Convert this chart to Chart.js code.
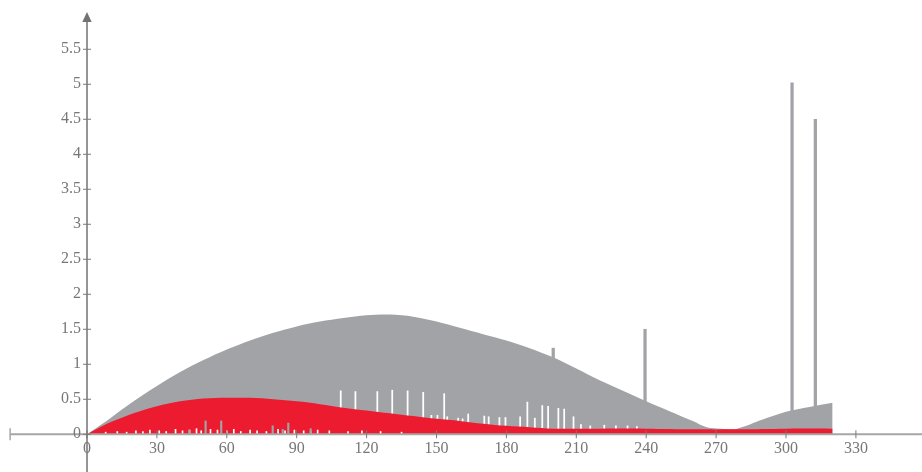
<!DOCTYPE html>
<html>
<head>
<meta charset="utf-8">
<script src="https://cdn.jsdelivr.net/npm/chart.js@4.4.1/dist/chart.umd.min.js"></script>
<style>
  html, body { margin: 0; padding: 0; background: #fff; }
  #wrap { width: 922px; height: 472px; }
</style>
</head>
<body>
<div id="wrap"><canvas id="chart"></canvas></div>
<script>
// gray hump (outline)
const grayX = [0, 10, 20, 30, 40, 50, 60, 70, 80, 90, 100, 110, 120, 130, 140, 150, 160, 170, 180, 190, 200, 210, 220, 230, 240, 250, 260, 266, 272, 279, 290, 300, 310, 320];
const grayY = [0, 0.23, 0.47, 0.69, 0.89, 1.06, 1.21, 1.34, 1.45, 1.54, 1.61, 1.66, 1.70, 1.71, 1.68, 1.61, 1.52, 1.43, 1.34, 1.23, 1.10, 0.94, 0.77, 0.62, 0.47, 0.33, 0.19, 0.10, 0.08, 0.08, 0.21, 0.32, 0.39, 0.45];

// red hump
const redX = [0, 5, 10, 20, 30, 40, 50, 60, 70, 80, 90, 100, 110, 120, 130, 140, 150, 160, 170, 180, 190, 200, 220, 240, 260, 280, 300, 320];
const redY = [0, 0.09, 0.17, 0.30, 0.40, 0.47, 0.51, 0.52, 0.52, 0.50, 0.47, 0.43, 0.38, 0.34, 0.30, 0.26, 0.22, 0.19, 0.15, 0.12, 0.10, 0.08, 0.08, 0.08, 0.07, 0.07, 0.08, 0.08];

// tall gray spikes
const spikeX = [200.1, 239.5, 302.6, 312.6];
const spikeY = [1.23, 1.50, 5.02, 4.50];

// white spikes cut into the gray above the red
const whiteX = [108.9, 115.2, 124.6, 131, 137.6, 144.3, 147.8, 150.4, 153.3, 154.6, 159.3, 161.2, 163.6, 170.5, 172.4, 177, 179.6, 185.9, 189, 192.2, 195.4, 197.9, 202.3, 204.8, 208.8, 212, 216, 222, 227, 232, 236];
const whiteY = [0.62, 0.61, 0.61, 0.63, 0.62, 0.60, 0.27, 0.27, 0.58, 0.25, 0.23, 0.22, 0.29, 0.26, 0.25, 0.24, 0.24, 0.25, 0.46, 0.23, 0.41, 0.40, 0.37, 0.36, 0.25, 0.14, 0.12, 0.13, 0.12, 0.12, 0.11];

// small white nicks at the foot of the red
const nickX = [8, 13, 17, 21, 24, 27, 31, 34, 38, 41, 44, 47, 49, 53, 56, 60, 63, 66, 70, 73, 77, 82, 85, 89, 93, 96, 99, 104, 112, 118, 126, 135];
const nickY = [0.03, 0.04, 0.03, 0.05, 0.04, 0.06, 0.05, 0.04, 0.07, 0.05, 0.06, 0.08, 0.05, 0.07, 0.06, 0.05, 0.07, 0.04, 0.06, 0.05, 0.04, 0.07, 0.05, 0.06, 0.05, 0.04, 0.06, 0.05, 0.04, 0.05, 0.04, 0.03];

// small gray spikes poking through the red
const smallX = [44, 50.9, 57.6, 79.7, 84, 86.4, 96];
const smallY = [0.06, 0.19, 0.19, 0.12, 0.07, 0.16, 0.08];

const xTicks = [0, 30, 60, 90, 120, 150, 180, 210, 240, 270, 300, 330];
const yTicks = [0, 0.5, 1, 1.5, 2, 2.5, 3, 3.5, 4, 4.5, 5, 5.5];

const GRAY = '#a2a3a7';
const RED = '#ed1b2f';

const pts = (xs, ys) => xs.map((v, i) => ({ x: v, y: ys[i] }));

const axesPlugin = {
  id: 'axes',
  afterDatasetsDraw(chart) {
    const { ctx, scales: { x, y } } = chart;
    const x0 = x.getPixelForValue(0);
    const y0 = y.getPixelForValue(0);
    const left = x.getPixelForValue(-33);
    ctx.save();

    // x axis
    ctx.strokeStyle = '#a6a6a6';
    ctx.lineWidth = 2;
    ctx.beginPath();
    ctx.moveTo(left, y0);
    ctx.lineTo(chart.width, y0);
    ctx.stroke();
    ctx.lineWidth = 1.5;
    ctx.beginPath();
    ctx.moveTo(left, y0 - 6);
    ctx.lineTo(left, y0 + 6);
    ctx.stroke();

    // x ticks + labels
    ctx.strokeStyle = '#7a7a7a';
    ctx.lineWidth = 1;
    ctx.fillStyle = '#777';
    ctx.font = '16px "Liberation Serif", serif';
    ctx.textAlign = 'center';
    ctx.textBaseline = 'middle';
    xTicks.forEach(v => {
      const px = x.getPixelForValue(v);
      ctx.beginPath();
      ctx.moveTo(px, y0 - 4);
      ctx.lineTo(px, y0 + 4);
      ctx.stroke();
      ctx.fillText(String(v), px, y0 + 15);
    });

    // y axis with arrow
    ctx.strokeStyle = '#727272';
    ctx.lineWidth = 1.5;
    ctx.beginPath();
    ctx.moveTo(x0, chart.height);
    ctx.lineTo(x0, 20);
    ctx.stroke();
    ctx.fillStyle = '#727272';
    ctx.beginPath();
    ctx.moveTo(x0, 12);
    ctx.lineTo(x0 - 4.7, 22);
    ctx.lineTo(x0 + 4.7, 22);
    ctx.closePath();
    ctx.fill();

    // y ticks + labels
    ctx.strokeStyle = '#7a7a7a';
    ctx.lineWidth = 1;
    ctx.fillStyle = '#777';
    ctx.textAlign = 'right';
    yTicks.forEach(v => {
      const py = y.getPixelForValue(v);
      ctx.beginPath();
      ctx.moveTo(x0 - 4, py);
      ctx.lineTo(x0 + 4, py);
      ctx.stroke();
      ctx.fillText(String(v), x0 - 6, py);
    });
    ctx.restore();
  }
};

const chart = new Chart(document.getElementById('chart'), {
  type: 'bar',
  data: {
    datasets: [
      { data: pts(smallX, smallY), backgroundColor: GRAY, barThickness: 1.5 },
      { data: pts(nickX, nickY), backgroundColor: '#fff', barThickness: 1 },
      {
        type: 'line',
        data: pts(redX, redY),
        backgroundColor: RED,
        borderWidth: 0,
        pointRadius: 0,
        fill: 'origin',
        tension: 0.3
      },
      { data: pts(whiteX, whiteY), backgroundColor: '#fff', barThickness: 1.1 },
      { data: pts(spikeX, spikeY), backgroundColor: GRAY, barThickness: 2.6 },
      {
        type: 'line',
        data: pts(grayX, grayY),
        backgroundColor: GRAY,
        borderWidth: 0,
        pointRadius: 0,
        fill: 'origin',
        tension: 0.3
      }
    ]
  },
  options: {
    animation: false,
    responsive: true,
    maintainAspectRatio: false,
    grouped: false,
    layout: { padding: 0 },
    plugins: {
      legend: { display: false },
      tooltip: { enabled: false }
    },
    scales: {
      x: { type: 'linear', display: false, min: -37.34, max: 358.37, offset: false },
      y: { display: false, min: -0.539, max: 6.204 }
    }
  },
  plugins: [axesPlugin]
});
</script>
</body>
</html>
